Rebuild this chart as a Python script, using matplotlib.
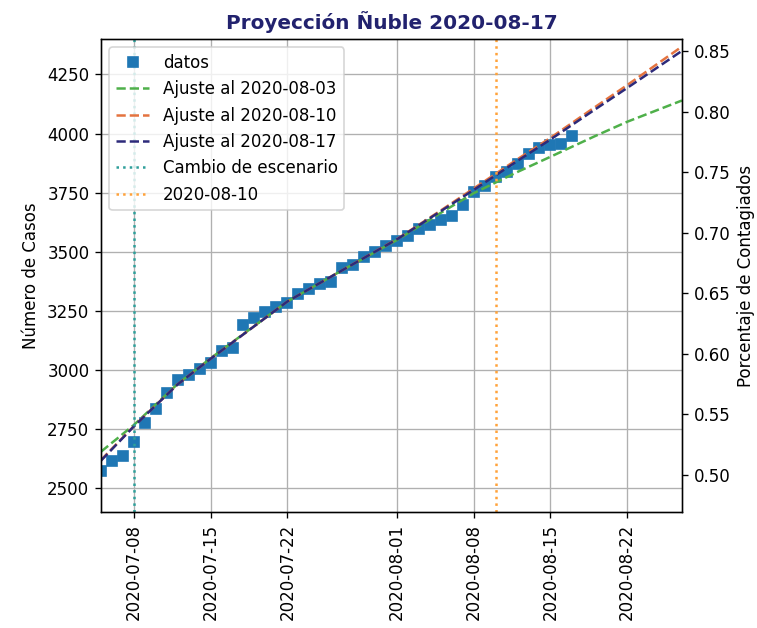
"""Proyeccion de casos en Nuble al 2020-08-17."""

import matplotlib
matplotlib.use("Agg")
import matplotlib.dates as mdates
import matplotlib.pyplot as plt
import pandas as pd

# Casos acumulados diarios.
fechas = pd.date_range("2020-07-05", "2020-08-17", freq="D")
casos = [
    2572, 2616, 2635, 2698, 2776, 2835, 2903, 2958, 2979, 3005,
    3030, 3079, 3095, 3189, 3220, 3246, 3265, 3282, 3320, 3343,
    3364, 3373, 3432, 3446, 3478, 3500, 3525, 3546, 3567, 3597,
    3614, 3635, 3652, 3698, 3753, 3778, 3816, 3838, 3871, 3912,
    3940, 3950, 3954, 3990,
]

# Curvas de ajuste, muestreadas en algunas fechas.
fechas_ajuste = pd.to_datetime([
    "2020-07-05", "2020-07-08", "2020-07-12", "2020-07-15", "2020-07-22",
    "2020-07-27", "2020-08-01", "2020-08-05", "2020-08-08", "2020-08-12",
    "2020-08-15", "2020-08-19", "2020-08-22", "2020-08-27",
])
ajuste_0803 = [2655, 2768, 2942, 3050, 3290, 3422, 3550, 3665, 3748, 3838,
               3902, 3988, 4050, 4140]
ajuste_0810 = [2620, 2763, 2940, 3048, 3290, 3422, 3554, 3675, 3768, 3892,
               3982, 4110, 4205, 4368]
ajuste_0817 = [2617, 2762, 2940, 3048, 3290, 3422, 3553, 3672, 3762, 3885,
               3975, 4100, 4193, 4350]

cambio_escenario = pd.Timestamp("2020-07-08")
fecha_corte = pd.Timestamp("2020-08-10")
poblacion = 511551

figure = plt.figure(figsize=(757 / 120, 628 / 120), dpi=120)
axis = figure.add_axes([0.1334, 0.1847, 0.7675, 0.7532])

axis.plot(fechas, casos, "s", color="#1f77b4", label="datos")
axis.plot(fechas_ajuste, ajuste_0803, "--", color="#4fb04a", label="Ajuste al 2020-08-03")
axis.plot(fechas_ajuste, ajuste_0810, "--", color="#e4733f", label="Ajuste al 2020-08-10")
axis.plot(fechas_ajuste, ajuste_0817, "--", color="#2d2a7a", label="Ajuste al 2020-08-17")
axis.axvline(cambio_escenario, linestyle=":", color="#2e9f9a", label="Cambio de escenario")
axis.axvline(fecha_corte, linestyle=":", color="#ffa23a", label="2020-08-10")

axis.set_xlim(pd.Timestamp("2020-07-05"), pd.Timestamp("2020-08-27"))
axis.set_ylim(2400, 4400)
axis.set_yticks(range(2500, 4251, 250))
axis.xaxis.set_major_locator(mdates.DayLocator(bymonthday=[1, 8, 15, 22]))
axis.xaxis.set_major_formatter(mdates.DateFormatter("%Y-%m-%d"))
plt.setp(axis.get_xticklabels(), rotation=90)
axis.grid(True)
axis.set_ylabel("Número de Casos")
axis.set_title("Proyección Ñuble 2020-08-17", fontweight="bold", color="#22226e")
axis.legend(loc="upper left")

# Eje derecho en porcentaje de la poblacion.
right = axis.twinx()
low, high = axis.get_ylim()
right.set_ylim(low / poblacion * 100, high / poblacion * 100)
right.set_ylabel("Porcentaje de Contagiados")

figure.savefig("out.png", dpi=120)
